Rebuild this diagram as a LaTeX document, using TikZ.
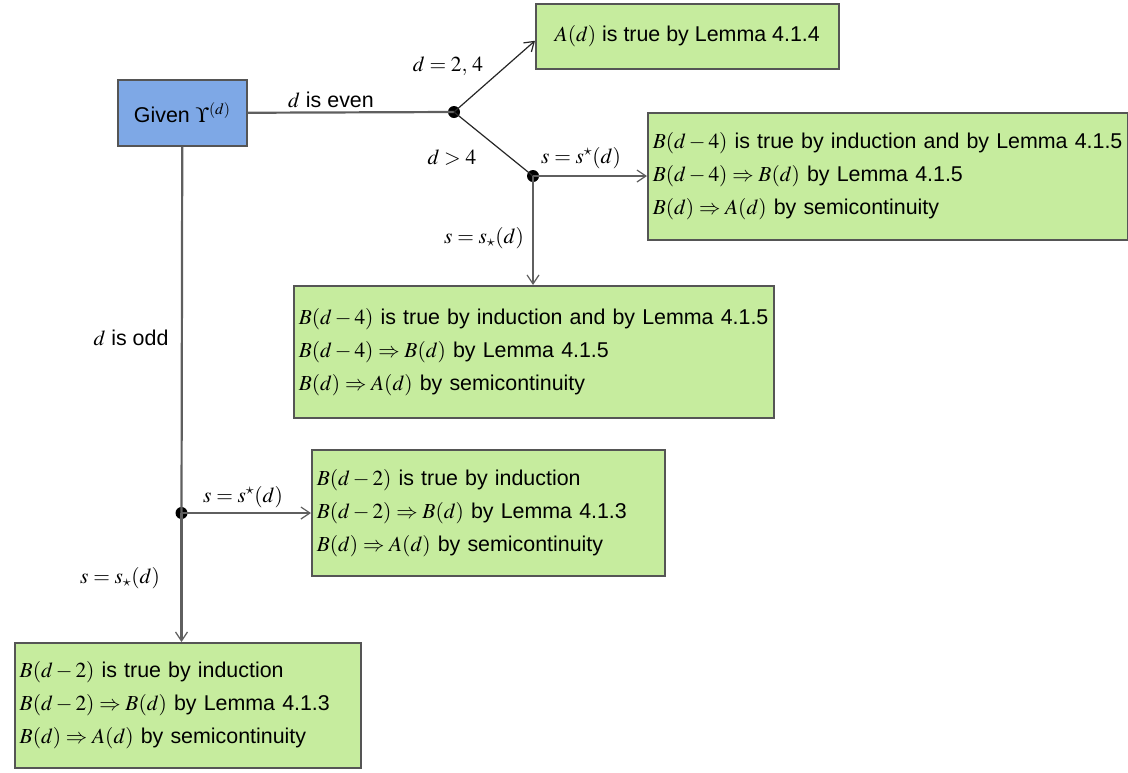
\documentclass[tikz,border=0pt]{standalone}
\usepackage{mathptmx}
\usepackage{fontspec}
\setmainfont{Liberation Sans}
\usetikzlibrary{arrows.meta}
\definecolor{boxgreen}{RGB}{198,236,158}
\definecolor{boxblue}{RGB}{126,168,230}
\definecolor{edgegray}{RGB}{85,85,85}
\definecolor{linegray}{RGB}{95,95,95}
\begin{document}
\begin{tikzpicture}[x=1pt,y=-1pt,
  font=\fontsize{21.4}{33}\selectfont,
  gbox/.style={draw=edgegray, fill=boxgreen, line width=1.5pt, anchor=north west,
    inner xsep=5pt, inner ysep=0pt, align=left},
  bbox/.style={draw=edgegray, fill=boxblue, line width=1.5pt, anchor=north west,
    inner sep=0pt, align=center},
  conn/.style={draw=linegray, line width=2.2pt},
  thin/.style={draw=black!85, line width=1.2pt},
  arr/.style={-{Straight Barb[length=9pt,width=12pt,line width=1.2pt]}},
  jdot/.style={circle, fill=black, inner sep=0pt, minimum size=12pt},
  lbl/.style={inner sep=0pt}]
\useasboundingbox (0,0) rectangle (1128,772);

% boxes
\node[bbox, minimum width=129pt, minimum height=66pt] (given) at (117,79) {Given $\Upsilon^{(d)}$};
\node[gbox, minimum width=303pt, minimum height=65pt, align=center] (a) at (535,3) {$A(d)$ is true by Lemma 4.1.4};
\node[gbox, minimum width=480pt, minimum height=127pt, text width=470pt] (c1) at (647,112)
  {\mbox{$B(d-4)$ is true by induction and by Lemma 4.1.5}\\
   \mbox{$B(d-4)\Rightarrow B(d)$ by Lemma 4.1.5}\\
   \mbox{$B(d)\Rightarrow A(d)$ by semicontinuity}};
\node[gbox, minimum width=480pt, minimum height=132pt, text width=470pt] (c2) at (293,285)
  {\mbox{$B(d-4)$ is true by induction and by Lemma 4.1.5}\\
   \mbox{$B(d-4)\Rightarrow B(d)$ by Lemma 4.1.5}\\
   \mbox{$B(d)\Rightarrow A(d)$ by semicontinuity}};
\node[gbox, minimum width=353pt, minimum height=126pt, text width=343pt] (c3) at (311,449)
  {\mbox{$B(d-2)$ is true by induction}\\
   \mbox{$B(d-2)\Rightarrow B(d)$ by Lemma 4.1.3}\\
   \mbox{$B(d)\Rightarrow A(d)$ by semicontinuity}};
\node[gbox, minimum width=346pt, minimum height=125pt, text width=336pt] (c4) at (14,642)
  {\mbox{$B(d-2)$ is true by induction}\\
   \mbox{$B(d-2)\Rightarrow B(d)$ by Lemma 4.1.3}\\
   \mbox{$B(d)\Rightarrow A(d)$ by semicontinuity}};

% junctions
\node[jdot] (j1) at (454,112) {};
\node[jdot] (j2) at (533,176) {};
\node[jdot] (j3) at (181.5,513) {};

% connectors
\draw[conn] (given.east) -- (j1.center);
\draw[thin, arr] (j1.center) -- ([yshift=-4.5pt]a.west);
\draw[thin] (j1.center) -- (j2.center);
\draw[conn, arr] (j2.center) -- (j2 -| c1.west);
\draw[conn, arr] (j2.center) -- (j2 |- c2.north);
\draw[conn] (given.south) -- (j3.center);
\draw[conn, arr] (j3.center) -- (j3 -| c3.west);
\draw[conn, arr] (j3.center) -- (j3 |- c4.north);

% labels
\node[lbl] (leven) at (331,100) {$d$ is even};
\node[lbl] (l24) at (448,66) {$d=2,\,4$};
\node[lbl] (lgt4) at (452,158) {$d>4$};
\node[lbl] (lsup1) at (581,158) {$s=s^{\star}(d)$};
\node[lbl] (lsub1) at (484,238) {$s=s_{\star}(d)$};
\node[lbl] (lodd) at (131,338) {$d$ is odd};
\node[lbl] (lsup2) at (243,497) {$s=s^{\star}(d)$};
\node[lbl] (lsub2) at (120,578) {$s=s_{\star}(d)$};
\end{tikzpicture}
\end{document}
